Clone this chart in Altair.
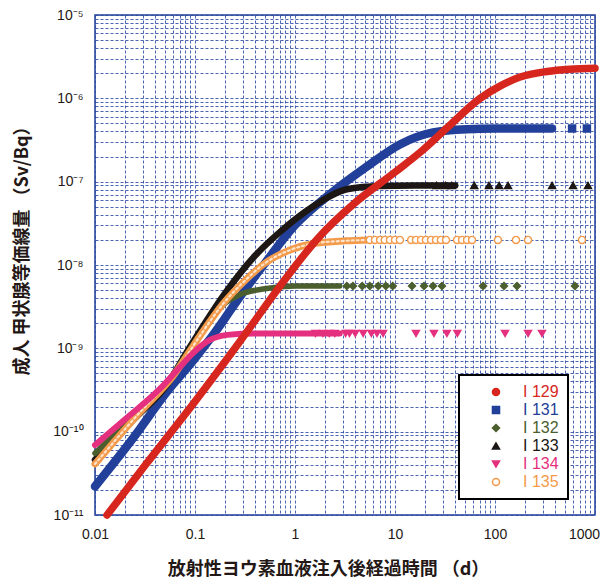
import altair as alt
import pandas as pd

# ---------------- data ----------------
isotopes = ["I 129", "I 131", "I 132", "I 133", "I 134", "I 135"]
colors = ["#d7261e", "#22409a", "#4b5e2e", "#1c1714", "#e4307e", "#f39a4b"]
marker_fills = ["#d7261e", "#22409a", "#4b5e2e", "#1c1714", "#e4307e", "#ffffff"]
shapes = ["circle", "square", "diamond", "triangle-up", "triangle-down", "circle"]

# time after injection (d) and dose (Sv/Bq) for the dense (continuous-looking) part
t_129 = [0.0132, 0.032, 0.1, 0.28, 0.71, 1.7, 4.0, 10, 19, 33, 71, 112, 178, 330, 560, 1000]
d_129 = [1.0e-11, 4.0e-11, 2.3e-10, 1.2e-9, 5.6e-9, 2.1e-8, 5.6e-8, 1.3e-7, 2.4e-7,
         4.4e-7, 1.0e-6, 1.4e-6, 1.8e-6, 2.1e-6, 2.24e-6, 2.3e-6]

t_131 = [0.01, 0.025, 0.05, 0.1, 0.16, 0.25, 0.5, 1.0, 2.24, 5.2, 11.2, 24, 52, 100, 372]
d_131 = [2.2e-11, 8.9e-11, 2.8e-10, 7.6e-10, 1.58e-9, 3.4e-9, 1.05e-8, 3.0e-8,
         7.1e-8, 1.51e-7, 2.8e-7, 3.9e-7, 4.27e-7, 4.35e-7, 4.35e-7]

t_132 = [0.01, 0.025, 0.045, 0.079, 0.126, 0.19, 0.28, 0.5, 1.0, 2.8]
d_132 = [5.5e-11, 1.58e-10, 3.0e-10, 7.9e-10, 1.78e-9, 3.3e-9, 4.4e-9, 5.2e-9, 5.6e-9, 5.6e-9]

t_133 = [0.01, 0.025, 0.052, 0.085, 0.2, 0.4, 0.71, 1.5, 3.3, 7.1, 15.8, 40]
d_133 = [4.6e-11, 1.45e-10, 3.6e-10, 9.5e-10, 4.6e-9, 1.3e-8, 2.5e-8, 5.0e-8, 8.1e-8,
         8.9e-8, 9.0e-8, 9.0e-8]

t_134 = [0.01, 0.02, 0.045, 0.071, 0.095, 0.141, 0.21, 0.4, 1.0, 2.8]
d_134 = [6.9e-11, 1.41e-10, 3.3e-10, 6.0e-10, 8.7e-10, 1.26e-9, 1.45e-9, 1.51e-9, 1.51e-9, 1.51e-9]

t_135 = [0.01, 0.028, 0.06, 0.112, 0.19, 0.32, 0.5, 0.89, 1.58, 3.2, 5.6]
d_135 = [4.1e-11, 1.7e-10, 4.6e-10, 1.41e-9, 3.4e-9, 6.6e-9, 1.05e-8, 1.51e-8, 1.82e-8,
         1.95e-8, 2.0e-8]

# sparse (individually visible) markers
mt_131 = [590, 830]
md_131 = [4.35e-7, 4.35e-7]

mt_132 = [3.3, 3.8, 4.7, 5.6, 6.8, 8.1, 9.5, 14.8, 19.5, 24, 29.5, 76, 123, 166, 630]
md_132 = [5.6e-9, 5.6e-9, 5.6e-9, 5.6e-9, 5.6e-9, 5.6e-9, 5.6e-9, 5.6e-9, 5.6e-9,
          5.6e-9, 5.6e-9, 5.6e-9, 5.6e-9, 5.6e-9, 5.6e-9]

mt_133 = [26, 32, 37, 62, 87, 110, 135, 372, 603, 851]
md_133 = [9.0e-8, 9.0e-8, 9.0e-8, 9.0e-8, 9.0e-8, 9.0e-8, 9.0e-8, 9.0e-8, 9.0e-8, 9.0e-8]

mt_134 = [1.6, 1.9, 2.2, 2.5, 3.2, 3.5, 4.0, 4.8, 5.8, 6.6, 7.6, 16.2, 24.5, 33, 42, 126, 214, 295]
md_134 = [1.51e-9, 1.51e-9, 1.51e-9, 1.51e-9, 1.51e-9, 1.51e-9, 1.51e-9, 1.51e-9, 1.51e-9,
          1.51e-9, 1.51e-9, 1.51e-9, 1.51e-9, 1.51e-9, 1.51e-9, 1.51e-9, 1.51e-9, 1.51e-9]

mt_135 = [5.6, 6.3, 7.1, 7.9, 8.9, 10, 11.2, 14.5, 16.2, 18.2, 20.4, 22.9, 25.7, 28.8, 32.4,
          41.7, 46.8, 52.5, 58.9, 107, 162, 214, 741]
md_135 = [2.0e-8, 2.0e-8, 2.0e-8, 2.0e-8, 2.0e-8, 2.0e-8, 2.0e-8, 2.0e-8, 2.0e-8, 2.0e-8,
          2.0e-8, 2.0e-8, 2.0e-8, 2.0e-8, 2.0e-8, 2.0e-8, 2.0e-8, 2.0e-8, 2.0e-8, 2.0e-8,
          2.0e-8, 2.0e-8, 2.0e-8]

x_tick_labels = ["0.01", "0.1", "1", "10", "100", "1000"]
y_tick_labels = ["10⁻¹¹", "10⁻¹⁰", "10⁻⁹", "10⁻⁸", "10⁻⁷", "10⁻⁶", "10⁻⁵"]

x_title = "放射性ヨウ素血液注入後経過時間 （d）"
y_title = "成人 甲状腺等価線量 （Sv/Bq）"

# ---------------- styling ----------------
FONT = "Noto Sans CJK JP"
NUMFONT = "Liberation Sans"
grid_color = "#2b4aa3"
border_color = "#1f3c98"
text_color = "#231815"

x_grid = [m * 10.0 ** k for k in range(-2, 3) for m in range(1, 10)] + [1000.0]
y_grid = [m * 10.0 ** k for k in range(-11, -5) for m in range(1, 10)] + [1e-5]

def js_list(items):
    return "[" + ",".join("'" + s + "'" for s in items) + "]"

major_test = "abs(log(datum.value)/LN10 - round(log(datum.value)/LN10)) < 0.001"
x_label_expr = (major_test + " ? " + js_list(x_tick_labels) +
                "[round(log(datum.value)/LN10) + 2] : ''")
y_label_expr = (major_test + " ? " + js_list(y_tick_labels) +
                "[round(log(datum.value)/LN10) + 11] : ''")

x_scale = alt.Scale(type="log", domain=[0.01, 1000], nice=False)
y_scale = alt.Scale(type="log", domain=[1e-11, 1e-5], nice=False)

x_axis = alt.Axis(values=x_grid, labelExpr=x_label_expr, grid=True, gridColor=grid_color,
                  gridDash=[3, 2], gridWidth=1, gridOpacity=0.85, ticks=False, domain=False,
                  labelFont=NUMFONT, labelFontSize=14, labelColor=text_color,
                  labelPadding=12, labelOverlap=False, labelFlush=False,
                  labelOffset={"condition": {"test": "datum.value > 999", "value": -11},
                               "value": 0},
                  title=x_title, titleFont=FONT, titleFontSize=18, titleFontWeight="bold",
                  titleColor=text_color, titleX=233, titleY=54, titleAlign="center",
                  titleBaseline="middle")
y_axis = alt.Axis(values=y_grid, labelExpr=y_label_expr, grid=True, gridColor=grid_color,
                  gridDash=[3, 2], gridWidth=1, gridOpacity=0.85, ticks=False, domain=False,
                  labelFont=NUMFONT, labelFontSize=14, labelColor=text_color,
                  labelPadding=12, labelOverlap=False, labelFlush=False,
                  title=y_title, titleFont=FONT, titleFontSize=18, titleFontWeight="bold",
                  titleColor=text_color, titleX=-73, titleY=231, titleAngle=270,
                  titleAlign="center", titleBaseline="middle")

X = alt.X("t:Q", scale=x_scale, axis=x_axis)
Y = alt.Y("D:Q", scale=y_scale, axis=y_axis)

dense = {
    "I 129": (t_129, d_129, 7.5),
    "I 131": (t_131, d_131, 8.5),
    "I 132": (t_132, d_132, 5.5),
    "I 133": (t_133, d_133, 6.5),
    "I 134": (t_134, d_134, 6.0),
    "I 135": (t_135, d_135, 7.0),
}
color_of = dict(zip(isotopes, colors))


def line_layer(name, color=None, width=None, dash=None):
    t, d, w = dense[name]
    df = pd.DataFrame({"t": t, "D": d})
    kw = dict(interpolate="monotone", strokeCap="round", strokeJoin="round",
              color=color or color_of[name], strokeWidth=width or w)
    if dash:
        kw["strokeDash"] = dash
    return alt.Chart(df).mark_line(**kw).encode(x=X, y=Y)


markers = []
for name, ts, ds in [("I 131", mt_131, md_131), ("I 132", mt_132, md_132),
                     ("I 133", mt_133, md_133), ("I 134", mt_134, md_134),
                     ("I 135", mt_135, md_135)]:
    for tv, dv in zip(ts, ds):
        markers.append({"iso": name, "t": tv, "D": dv})
mdf = pd.DataFrame(markers)

label_color_expr = " : ".join(
    "datum.label == '" + n + "' ? '" + c + "'" for n, c in zip(isotopes, colors)
) + " : 'black'"

legend = alt.Legend(title=None, orient="none", legendX=364, legendY=360,
                    labelFont=NUMFONT, labelFontSize=16, labelColor=alt.ExprRef(label_color_expr),
                    symbolSize=50, symbolStrokeWidth=1.5, symbolOffset=20, labelOffset=19,
                    padding=9, rowPadding=2, strokeColor="black", fillColor="white",
                    symbolType="circle")

point_layer = alt.Chart(mdf).mark_point(size=50, strokeWidth=1.4, opacity=1, fillOpacity=1).encode(
    x=X, y=Y,
    shape=alt.Shape("iso:N", scale=alt.Scale(domain=isotopes, range=shapes), legend=legend),
    stroke=alt.Stroke("iso:N", scale=alt.Scale(domain=isotopes, range=colors), legend=legend),
    fill=alt.Fill("iso:N", scale=alt.Scale(domain=isotopes, range=marker_fills), legend=legend),
)

layers = [
    line_layer("I 131"),
    line_layer("I 133"),
    line_layer("I 132"),
    line_layer("I 135"),
    line_layer("I 135", color="#fde4cc", width=2.2, dash=[2, 3]),
    line_layer("I 134"),
    point_layer,
    line_layer("I 129"),
]

chart = alt.layer(*layers).properties(
    width=500, height=500,
    autosize=alt.AutoSizeParams(type="none"),
    padding={"left": 87, "top": 7, "right": 6, "bottom": 66},
    background="white",
).configure_view(
    stroke=border_color, strokeWidth=1.5
).configure_legend(
    strokeWidth=2
)

chart.save("out.html", embed_options={"renderer": "svg", "actions": False})
